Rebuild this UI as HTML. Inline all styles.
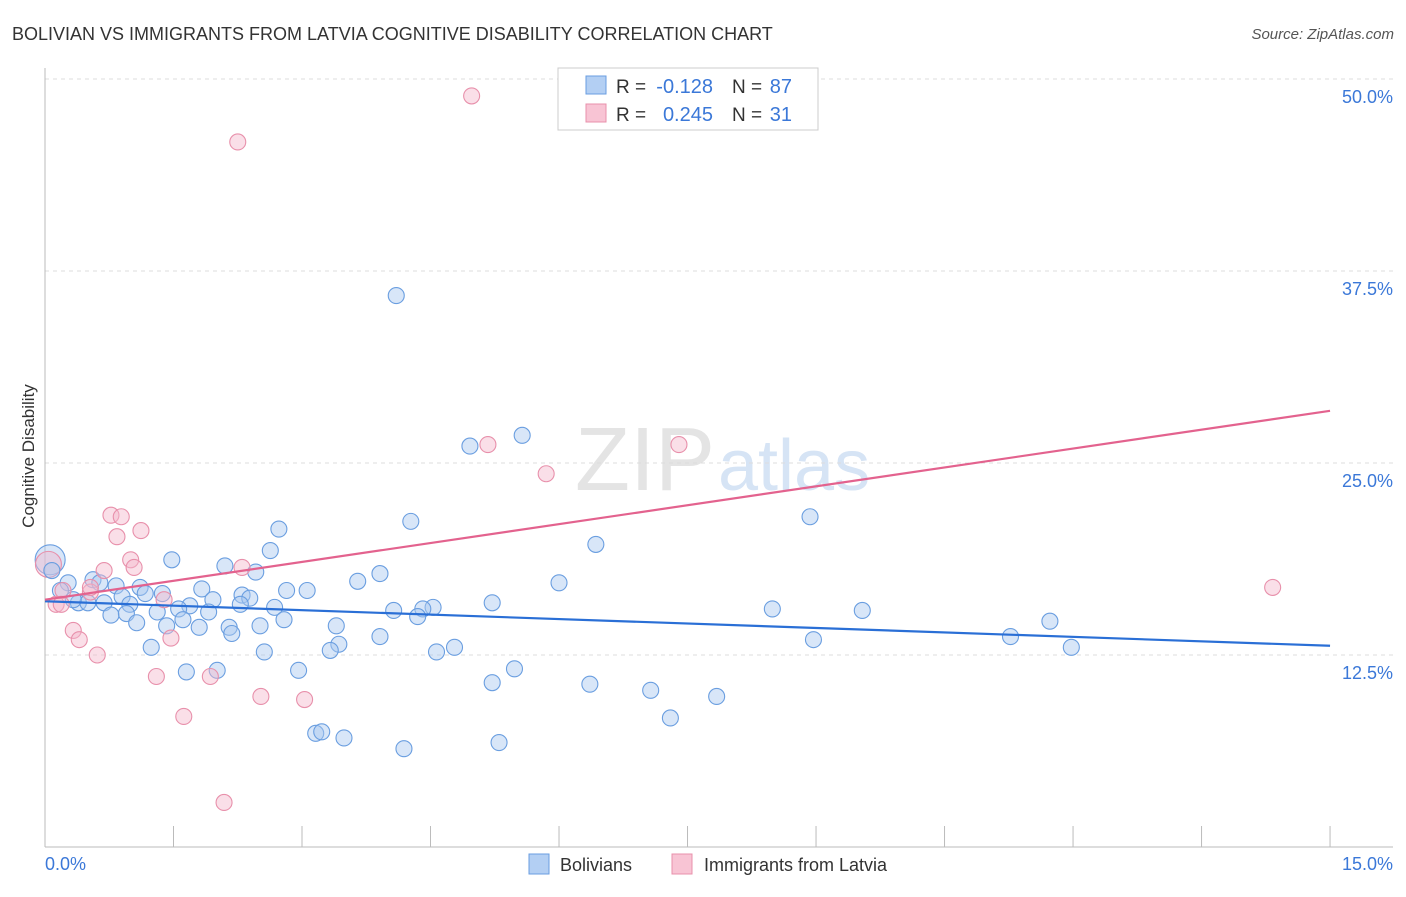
<!DOCTYPE html>
<html><head><meta charset="utf-8"><style>
body{margin:0;background:#fff;font-family:"Liberation Sans",sans-serif;}
svg text{font-family:"Liberation Sans",sans-serif;}
</style></head><body>
<svg id="chart" width="1406" height="892" xmlns="http://www.w3.org/2000/svg">
<text x="12" y="40" font-size="18" fill="#333">BOLIVIAN VS IMMIGRANTS FROM LATVIA COGNITIVE DISABILITY CORRELATION CHART</text>
<text x="1394" y="39" font-size="15" fill="#555" text-anchor="end" font-style="italic">Source: ZipAtlas.com</text>
<text x="715" y="490" font-size="90" fill="#e4e4e4" text-anchor="end" font-family="Liberation Serif">ZIP</text>
<text x="718" y="490" font-size="72" fill="#d6e4f5">atlas</text>
<g id="grid"></g>
<g id="axes"></g>
<g id="points"></g>
<g id="trends"></g>
<text transform="translate(34,456) rotate(-90)" font-size="17" fill="#333" text-anchor="middle">Cognitive Disability</text>
<text x="45" y="870" font-size="18" fill="#3b78d8">0.0%</text>
<text x="1393" y="870" font-size="18" fill="#3b78d8" text-anchor="end">15.0%</text>
<g>
<rect x="558" y="68" width="260" height="62" fill="#fff" stroke="#ccc"/>
<rect x="586" y="76" width="20" height="18" fill="#b3cff3" stroke="#6a9ee0"/>
<rect x="586" y="104" width="20" height="18" fill="#f8c4d4" stroke="#e890ab"/>
<text x="616" y="93" font-size="19" fill="#333">R =</text>
<text x="713" y="93" font-size="20" fill="#3b78d8" text-anchor="end">-0.128</text>
<text x="732" y="93" font-size="19" fill="#333">N =</text>
<text x="792" y="93" font-size="20" fill="#3b78d8" text-anchor="end">87</text>
<text x="616" y="121" font-size="19" fill="#333">R =</text>
<text x="713" y="121" font-size="20" fill="#3b78d8" text-anchor="end">0.245</text>
<text x="732" y="121" font-size="19" fill="#333">N =</text>
<text x="792" y="121" font-size="20" fill="#3b78d8" text-anchor="end">31</text>
</g>
<g>
<rect x="529" y="854" width="20" height="20" fill="#b3cff3" stroke="#6a9ee0"/>
<text x="560" y="871" font-size="18" fill="#333">Bolivians</text>
<rect x="672" y="854" width="20" height="20" fill="#f8c4d4" stroke="#e890ab"/>
<text x="704" y="871" font-size="18" fill="#333">Immigrants from Latvia</text>
</g>
</svg>
<script>
const yTicks=[12.5,25.0,37.5,50.0];
const xTicks=[0,1.5,3,4.5,6,7.5,9,10.5,12,13.5,15];
const blueX=[4.10,4.96,5.57,4.27,2.73,6.43,8.93,2.63,1.48,2.10,2.46,3.91,3.65,6.00,0.27,0.56,0.83,1.11,1.83,2.82,3.06,1.37,2.30,2.39,1.96,0.90,1.17,0.18,0.39,0.69,0.99,1.69,2.28,2.68,5.22,4.53,4.41,4.07,1.56,1.91,1.31,8.49,9.54,0.77,0.95,1.61,2.79,4.35,1.07,1.42,1.80,2.15,2.51,3.40,2.18,3.91,11.27,11.73,3.43,1.24,3.33,2.56,4.57,4.78,8.97,11.98,1.65,2.01,2.96,5.48,5.22,6.36,7.07,7.84,7.30,3.16,3.23,3.49,4.19,5.30,0.08,0.50,0.64,0.33];
const blueY=[35.9,26.1,26.8,21.2,20.7,19.7,21.5,19.3,18.7,18.3,17.9,17.8,17.3,17.2,17.2,17.4,17.0,16.9,16.8,16.7,16.7,16.5,16.4,16.2,16.1,16.3,16.5,16.7,15.9,15.9,15.8,15.7,15.8,15.6,15.9,15.6,15.5,15.4,15.5,15.3,15.3,15.5,15.4,15.1,15.2,14.8,14.8,15.0,14.6,14.4,14.3,14.3,14.4,14.4,13.9,13.7,13.7,14.7,13.2,13.0,12.8,12.7,12.7,13.0,13.5,13.0,11.4,11.5,11.5,11.6,10.7,10.6,10.2,9.8,8.4,7.4,7.5,7.1,6.4,6.8,18.0,15.9,17.2,16.1];
const pinkX=[4.98,2.25,5.17,7.40,5.85,0.77,0.89,1.12,0.84,1.00,1.04,2.30,0.69,1.39,0.21,0.53,0.13,0.33,0.40,1.47,0.61,1.30,1.93,2.52,3.03,1.62,2.09,14.33,0.53,0.19];
const pinkY=[48.9,45.9,26.2,26.2,24.3,21.6,21.5,20.6,20.2,18.7,18.2,18.2,18.0,16.1,16.7,16.6,15.8,14.1,13.5,13.6,12.5,11.1,11.1,9.8,9.6,8.5,2.9,16.9,16.9,15.8];
const bigBlue=[0.06,18.7], bigPink=[0.04,18.4];
const blueTrend=[16.0,13.1], pinkTrend=[16.1,28.4];
const X=v=>45+v*85.67, Y=v=>847-v*15.36;
const NS='http://www.w3.org/2000/svg';
function mk(p,t,a){const e=document.createElementNS(NS,t);for(const k in a)e.setAttribute(k,a[k]);p.appendChild(e);return e;}
const grid=document.getElementById('grid'),axes=document.getElementById('axes'),pts=document.getElementById('points'),tr=document.getElementById('trends');
yTicks.forEach(t=>{const l=mk(grid,'line',{x1:45,x2:1393,y1:Y(t),y2:Y(t),stroke:'#ddd','stroke-dasharray':'4,4'});


const tx=mk(grid,'text',{x:1393,y:Y(t)+24,'font-size':18,fill:'#3b78d8','text-anchor':'end'});tx.textContent=t.toFixed(1)+'%';

});
const la=mk(axes,'line',{x1:45,x2:45,y1:68,y2:847,stroke:'#bbb'});


const lb=mk(axes,'line',{x1:45,x2:1393,y1:847,y2:847,stroke:'#bbb'});


xTicks.forEach(t=>{const l=mk(axes,'line',{x1:X(t),x2:X(t),y1:826,y2:847,stroke:'#bbb'});

});
function dot(x,y,r,fill,stroke,name){const c=mk(pts,'circle',{cx:X(x),cy:Y(y),r:r,fill:fill,'fill-opacity':0.45,stroke:stroke,'stroke-width':1.1});

}
dot(bigBlue[0],bigBlue[1],15,'#a9c8f0','#6a9ee0','bolivian-point');
dot(bigPink[0],bigPink[1],13,'#f5b8cb','#e890ab','latvia-point');
blueX.forEach((x,i)=>dot(x,blueY[i],8,'#a9c8f0','#6a9ee0','bolivian-point'));
pinkX.forEach((x,i)=>dot(x,pinkY[i],8,'#f5b8cb','#e890ab','latvia-point'));
const b=mk(tr,'line',{x1:X(0),x2:X(15),y1:Y(blueTrend[0]),y2:Y(blueTrend[1]),stroke:'#2a6fd6','stroke-width':2.2});


const p=mk(tr,'line',{x1:X(0),x2:X(15),y1:Y(pinkTrend[0]),y2:Y(pinkTrend[1]),stroke:'#e3628e','stroke-width':2.2});


</script>
</body></html>
